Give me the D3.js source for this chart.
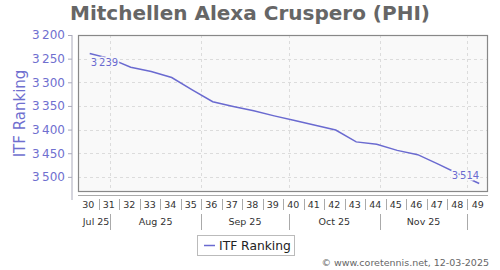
<!DOCTYPE html>
<html>
<head>
<meta charset="utf-8">
<script src="https://cdn.jsdelivr.net/npm/d3@7"></script>
<style>
  html, body { margin: 0; padding: 0; background: #fff; }
  svg { display: block; font-family: "DejaVu Sans", sans-serif; }
</style>
</head>
<body>
<svg id="chart" width="500" height="270"></svg>
<script>
// ---- data ----
const title = "Mitchellen Alexa Cruspero (PHI)";
const seriesName = "ITF Ranking";
const weeks = [30, 31, 32, 33, 34, 35, 36, 37, 38, 39, 40, 41, 42, 43, 44, 45, 46, 47, 48, 49];
const ranking = [3239, 3250, 3268, 3277, 3290, 3316, 3341, 3351, 3360, 3371, 3381, 3391, 3401, 3426, 3431, 3444, 3453, 3473, 3494, 3514];
const yTicks = [3200, 3250, 3300, 3350, 3400, 3450, 3500];
const monthStarts = ["2025-08-01", "2025-09-01", "2025-10-01", "2025-11-01", "2025-12-01"];
const monthLabels = ["Jul 25", "Aug 25", "Sep 25", "Oct 25", "Nov 25"];
const credit = "\u00A9 www.coretennis.net, 12-03-2025";

// ---- helpers ----
const parse = d3.timeParse("%Y-%m-%d");
const weekMonday = w => new Date(2025, 6, 21 + (w - 30) * 7);
const locale = d3.formatLocale({decimal: ".", thousands: "\u2009", grouping: [3], currency: ["", ""]});
const fmt = locale.format(",");

const svg = d3.select("#chart");
const plot = {left: 78, right: 488, top: 35, bottom: 192};

const x = d3.scaleTime()
  .domain([weekMonday(weeks[0]), weekMonday(weeks[weeks.length - 1] + 1)])
  .range([plot.left, plot.right]);
const y = d3.scaleLinear().domain([3200, 3532]).range([plot.top, plot.bottom]);

const pointDate = w => d3.timeHour.offset(weekMonday(w), 4 * 24);
const bandCenter = w => d3.timeHour.offset(weekMonday(w), 3.5 * 24);

// title
svg.append("text")
  .attr("x", 250).attr("y", 20)
  .attr("text-anchor", "middle")
  .attr("font-size", 20).attr("font-weight", "bold")
  .attr("fill", "#666")
  .text(title);

// plot background
svg.append("rect")
  .attr("x", plot.left).attr("y", plot.top)
  .attr("width", plot.right - plot.left).attr("height", plot.bottom - plot.top)
  .attr("fill", "#f9f9f9");

// horizontal grid
svg.append("g").selectAll("line")
  .data(yTicks.slice(1))
  .join("line")
  .attr("x1", plot.left).attr("x2", plot.right)
  .attr("y1", d => Math.round(y(d)) + 0.5).attr("y2", d => Math.round(y(d)) + 0.5)
  .attr("stroke", "#dcdcdc").attr("stroke-dasharray", "3,3");

// vertical grid at month starts
const monthDates = monthStarts.map(parse);
svg.append("g").selectAll("line")
  .data(monthDates)
  .join("line")
  .attr("x1", d => Math.round(x(d)) + 0.5).attr("x2", d => Math.round(x(d)) + 0.5)
  .attr("y1", plot.top).attr("y2", plot.bottom)
  .attr("stroke", "#dcdcdc").attr("stroke-dasharray", "3,3");

// frame
svg.append("rect")
  .attr("x", plot.left + 0.5).attr("y", plot.top + 0.5)
  .attr("width", plot.right - plot.left - 1).attr("height", plot.bottom - plot.top - 1)
  .attr("fill", "none").attr("stroke", "#888").attr("stroke-width", 1.2);

// y axis (offset left)
const yAxis = d3.axisLeft(y).tickValues(yTicks).tickFormat(fmt).tickSize(4).tickPadding(3);
const gy = svg.append("g").attr("transform", `translate(${plot.left - 6},0)`).call(yAxis);
gy.select(".domain").attr("stroke", "#aab").attr("d", `M0,${plot.top}V${plot.bottom + 8}`);
gy.selectAll(".tick line").attr("stroke", "#aab");
gy.selectAll(".tick text").attr("fill", "#6f6fcf").attr("font-size", 12)
  .attr("font-family", "DejaVu Sans");

// y axis title
svg.append("text")
  .attr("transform", `translate(25,${(plot.top + plot.bottom) / 2}) rotate(-90)`)
  .attr("text-anchor", "middle")
  .attr("font-size", 15)
  .attr("fill", "#6f6fcf")
  .text(seriesName);

// x axis line
const axisY = 195;
svg.append("line")
  .attr("x1", plot.left).attr("x2", plot.right)
  .attr("y1", axisY + 0.5).attr("y2", axisY + 0.5)
  .attr("stroke", "#aaa");

// week labels
const gx = svg.append("g");
gx.selectAll("text.wk")
  .data(weeks)
  .join("text")
  .attr("class", "wk")
  .attr("x", d => x(bandCenter(d)))
  .attr("y", 208)
  .attr("text-anchor", "middle")
  .attr("font-size", 9.5)
  .attr("fill", "#333")
  .text(d => d);
// week separators
gx.selectAll("line.wk")
  .data(weeks.slice(1))
  .join("line")
  .attr("class", "wk")
  .attr("x1", d => Math.round(x(weekMonday(d))) + 0.5)
  .attr("x2", d => Math.round(x(weekMonday(d))) + 0.5)
  .attr("y1", 199).attr("y2", 210)
  .attr("stroke", "#aaa");
// month separators
gx.selectAll("line.mo")
  .data(monthDates)
  .join("line")
  .attr("class", "mo")
  .attr("x1", d => Math.round(x(d)) + 0.5).attr("x2", d => Math.round(x(d)) + 0.5)
  .attr("y1", 214).attr("y2", 230)
  .attr("stroke", "#aaa");
// month labels
const bounds = [x.domain()[0]].concat(monthDates);
gx.selectAll("text.mo")
  .data(monthLabels)
  .join("text")
  .attr("class", "mo")
  .attr("x", (d, i) => (x(bounds[i]) + x(bounds[i + 1])) / 2 + (i === 0 ? 2 : 0))
  .attr("y", 225)
  .attr("text-anchor", "middle")
  .attr("font-size", 9.5)
  .attr("fill", "#333")
  .text(d => d);

// line
const line = d3.line()
  .x((d, i) => x(pointDate(weeks[i])))
  .y(d => y(d));
svg.append("path")
  .datum(ranking)
  .attr("d", line)
  .attr("fill", "none")
  .attr("stroke", "#6a6ad0")
  .attr("stroke-width", 1.5);

// point labels for first and last
const n = ranking.length;
svg.append("text")
  .attr("x", x(pointDate(weeks[0])) + 1)
  .attr("y", y(ranking[0]) + 13)
  .attr("font-size", 10)
  .attr("fill", "#6a6ad0")
  .attr("stroke", "#f9f9f9").attr("stroke-width", 3).attr("paint-order", "stroke")
  .text(fmt(ranking[0]));
svg.append("text")
  .attr("x", x(pointDate(weeks[n - 1])))
  .attr("y", y(ranking[n - 1]) - 4)
  .attr("text-anchor", "end")
  .attr("font-size", 10)
  .attr("fill", "#6a6ad0")
  .attr("stroke", "#f9f9f9").attr("stroke-width", 3).attr("paint-order", "stroke")
  .text(fmt(ranking[n - 1]));

// legend
const lg = svg.append("g");
lg.append("rect")
  .attr("x", 197.5).attr("y", 235.5).attr("width", 97).attr("height", 20)
  .attr("fill", "#fff").attr("stroke", "#bbb");
lg.append("line")
  .attr("x1", 204).attr("x2", 215).attr("y1", 245.5).attr("y2", 245.5)
  .attr("stroke", "#6a6ad0").attr("stroke-width", 1.5);
lg.append("text")
  .attr("x", 219).attr("y", 250)
  .attr("font-size", 12.3)
  .attr("fill", "#222")
  .text(seriesName);

// credit
svg.append("text")
  .attr("x", 489).attr("y", 266)
  .attr("text-anchor", "end")
  .attr("font-size", 9.5)
  .attr("fill", "#666")
  .text(credit);
</script>
</body>
</html>
